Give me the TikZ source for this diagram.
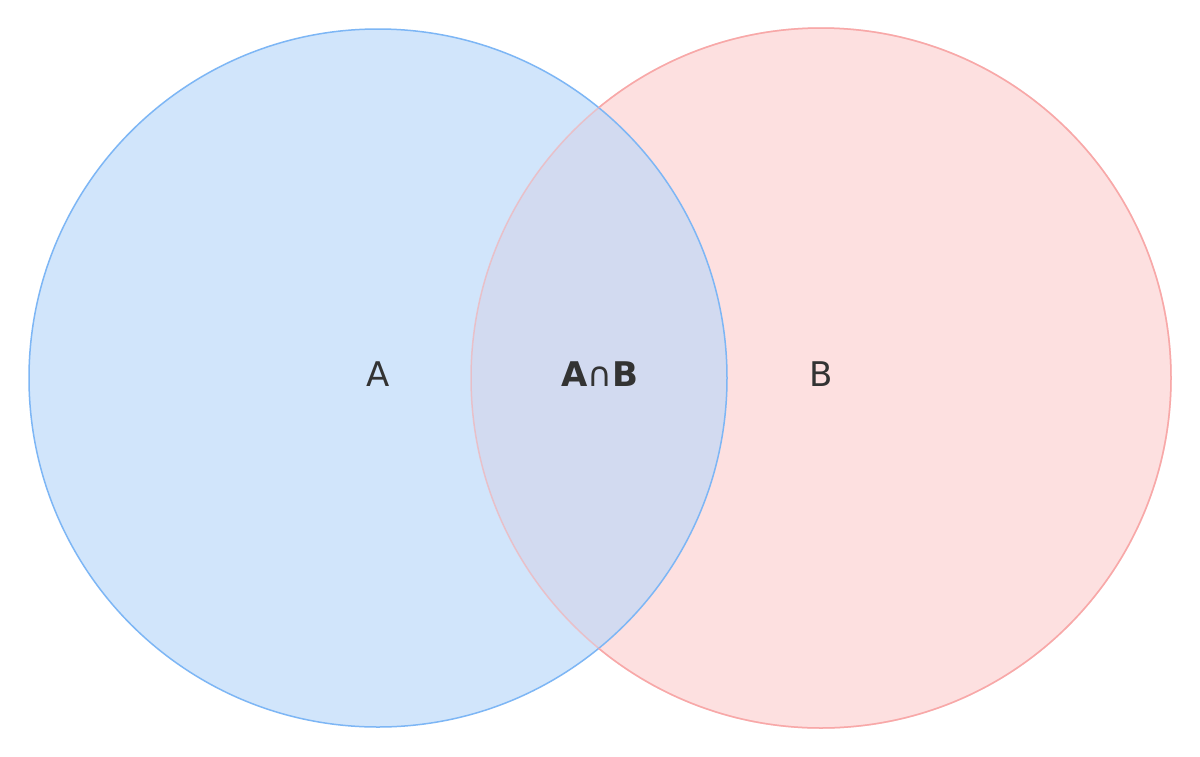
\documentclass[tikz,border=0pt]{standalone}
\usepackage{fontspec}
\setmainfont{DejaVu Sans}
\definecolor{afill}{HTML}{D1E5FB}
\definecolor{bfill}{HTML}{FDE0E0}
\definecolor{abfill}{HTML}{D2DAF0}
\definecolor{astroke}{HTML}{7DB6F5}
\definecolor{bstroke}{HTML}{F8A8A8}
\definecolor{txt}{HTML}{333333}
\begin{document}
\begin{tikzpicture}[x=1pt,y=-1pt,lbl/.style={text=txt,font=\fontsize{34}{40}\selectfont}]
\useasboundingbox (0,0) rectangle (1200,756);
\fill[white] (0,0) rectangle (1200,756);
\coordinate (ca) at (378,378);
\coordinate (cb) at (821,378);
\fill[afill] (ca) circle (349);
\fill[bfill] (cb) circle (350);
\begin{scope}
\clip (ca) circle (349);
\fill[abfill] (cb) circle (350);
\end{scope}
\draw[bstroke,line width=1.5,opacity=0.55] (cb) circle (350);
\draw[astroke,line width=1.5] (ca) circle (349);
\begin{scope}[even odd rule]
\clip (0,0) rectangle (1200,756) (ca) circle (349);
\draw[bstroke,line width=1.5] (cb) circle (350);
\end{scope}
\node[lbl] (a) at (378,374) {A};
\node[lbl] (b) at (821,374) {B};
\node[lbl] (ab) at (600,374) {\textbf{A}∩\textbf{B}};
\end{tikzpicture}
\end{document}
